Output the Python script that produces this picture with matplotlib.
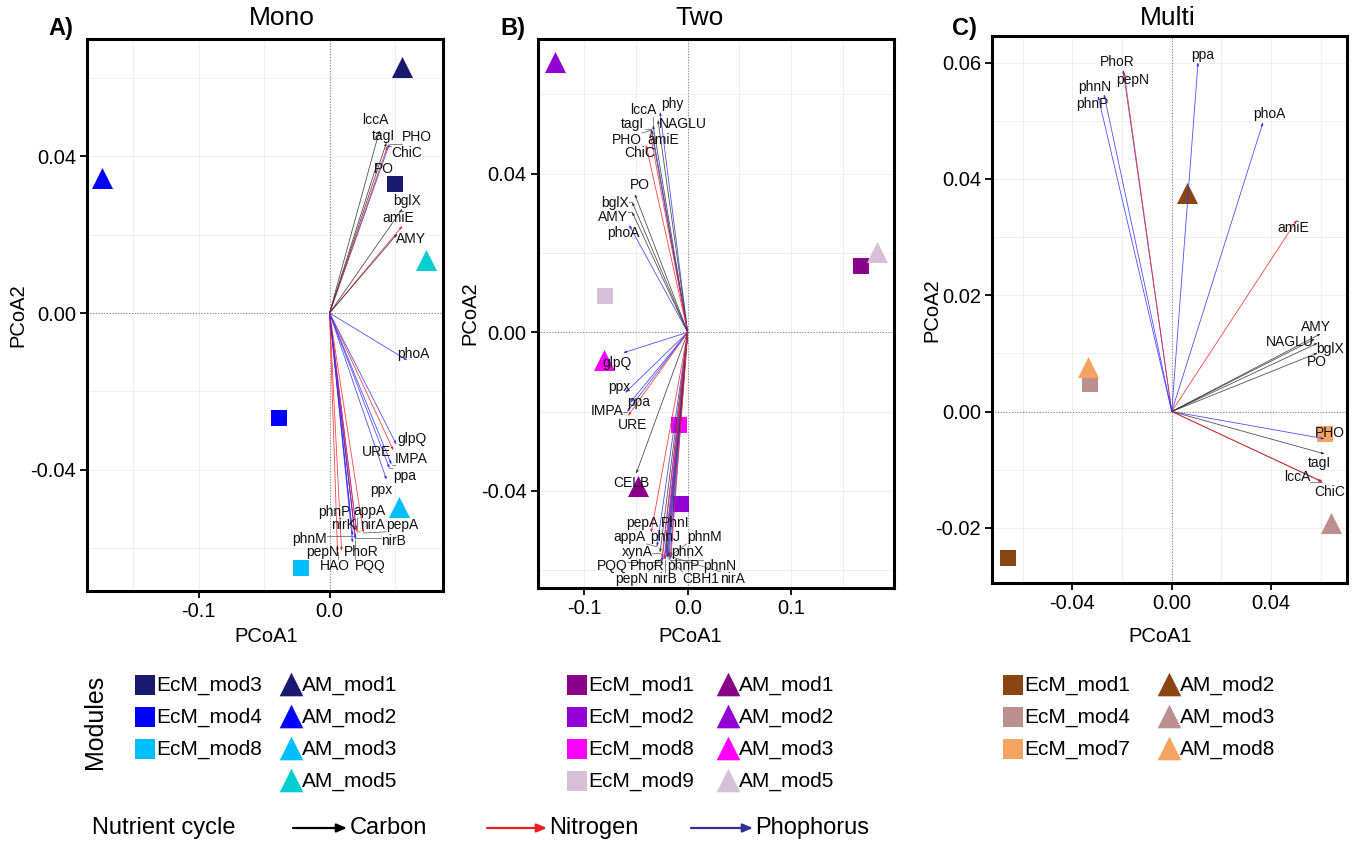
import matplotlib
matplotlib.use("Agg")
import matplotlib.pyplot as plt
import numpy as np

plt.rcParams['font.family'] = ['Liberation Sans', 'DejaVu Sans']
plt.rcParams['axes.unicode_minus'] = False

# ---------------- DATA ----------------
# Panel A (Mono)
mono_modules = ['EcM_mod3', 'EcM_mod4', 'EcM_mod8', 'AM_mod1', 'AM_mod2', 'AM_mod3', 'AM_mod5']
mono_pc1 = [0.0496, -0.0389, -0.0221, 0.0550, -0.1737, 0.0527, 0.0733]
mono_pc2 = [0.0330, -0.0269, -0.0651, 0.0628, 0.0344, -0.0495, 0.0136]
mono_genes = ['lccA', 'tagI', 'PHO', 'ChiC', 'PO', 'bglX', 'amiE', 'AMY', 'phoA', 'glpQ', 'URE',
              'IMPA', 'ppa', 'ppx', 'phnP', 'appA', 'nirK', 'nirA', 'pepA', 'phnM', 'nirB', 'pepN',
              'PhoR', 'HAO', 'PQQ']
mono_cycle = ['C', 'C', 'P', 'N', 'C', 'C', 'N', 'C', 'P', 'P', 'N',
              'P', 'P', 'P', 'P', 'P', 'N', 'N', 'N', 'P', 'N', 'N',
              'P', 'N', 'P']
mono_v1 = [0.0382, 0.0435, 0.0458, 0.0443, 0.0366, 0.0557, 0.0557, 0.0519, 0.0595, 0.0511, 0.0488,
           0.0473, 0.0458, 0.0435, 0.0168, 0.0206, 0.0191, 0.0206, 0.0259, 0.0176, 0.0198, 0.0092,
           0.0176, 0.0061, 0.0198]
mono_v2 = [0.0467, 0.0436, 0.0433, 0.0427, 0.0385, 0.0267, 0.0223, 0.0203, -0.0121, -0.0336, -0.0351,
           -0.0387, -0.0397, -0.0426, -0.0541, -0.0554, -0.0559, -0.0559, -0.0562, -0.0569, -0.0574, -0.0608,
           -0.0587, -0.0610, -0.0579]

# Panel B (Two)
two_modules = ['EcM_mod1', 'EcM_mod2', 'EcM_mod8', 'EcM_mod9', 'AM_mod1', 'AM_mod2', 'AM_mod3', 'AM_mod5']
two_pc1 = [0.1678, -0.0065, -0.0084, -0.0798, -0.0484, -0.1285, -0.0810, 0.1829]
two_pc2 = [0.0167, -0.0433, -0.0233, 0.0091, -0.0387, 0.0683, -0.0071, 0.0203]
two_genes = ['lccA', 'phy', 'NAGLU', 'tagI', 'PHO', 'amiE', 'ChiC', 'PO', 'bglX', 'AMY', 'phoA',
             'glpQ', 'ppx', 'ppa', 'IMPA', 'URE', 'CELB', 'pepA', 'PhnI', 'appA', 'phnJ', 'phnM',
             'xynA', 'phnX', 'PQQ', 'PhoR', 'phnP', 'phnN', 'pepN', 'nirB', 'CBH1', 'nirA']
two_cycle = ['C', 'P', 'C', 'C', 'P', 'N', 'N', 'C', 'C', 'C', 'P',
             'P', 'P', 'P', 'P', 'N', 'C', 'N', 'P', 'P', 'P', 'P',
             'C', 'P', 'P', 'P', 'P', 'P', 'N', 'N', 'C', 'N']
two_v1 = [-0.0336, -0.0268, -0.0288, -0.0355, -0.0346, -0.0365, -0.0404, -0.0513, -0.0539, -0.0539, -0.0568,
          -0.0626, -0.0607, -0.0559, -0.0588, -0.0578, -0.0500, -0.0355, -0.0210, -0.0297, -0.0200, -0.0181,
          -0.0268, -0.0210, -0.0249, -0.0229, -0.0200, -0.0171, -0.0249, -0.0220, -0.0191, -0.0162]
two_v2 = [0.0523, 0.0556, 0.0536, 0.0513, 0.0510, 0.0503, 0.0473, 0.0349, 0.0329, 0.0304, 0.0271,
          -0.0052, -0.0153, -0.0178, -0.0201, -0.0211, -0.0357, -0.0506, -0.0549, -0.0541, -0.0556, -0.0566,
          -0.0556, -0.0561, -0.0579, -0.0574, -0.0569, -0.0574, -0.0569, -0.0574, -0.0569, -0.0566]

# Panel C (Multi)
multi_modules = ['EcM_mod1', 'EcM_mod4', 'EcM_mod7', 'AM_mod2', 'AM_mod3', 'AM_mod8']
multi_pc1 = [-0.0659, -0.0329, 0.0617, 0.0062, 0.0642, -0.0337]
multi_pc2 = [-0.0252, 0.0048, -0.0038, 0.0376, -0.0191, 0.0077]
multi_genes = ['PhoR', 'pepN', 'phnN', 'phnP', 'ppa', 'phoA', 'amiE', 'AMY', 'NAGLU', 'bglX',
               'PO', 'PHO', 'tagI', 'lccA', 'ChiC']
multi_cycle = ['P', 'N', 'P', 'P', 'P', 'P', 'N', 'C', 'C', 'C', 'C', 'P', 'C', 'C', 'N']
multi_v1 = [-0.0196, -0.0192, -0.0273, -0.0297, 0.0106, 0.0368, 0.0505, 0.0601, 0.0577, 0.0589,
            0.0589, 0.0617, 0.0617, 0.0605, 0.0609]
multi_v2 = [0.0588, 0.0584, 0.0546, 0.0543, 0.0601, 0.0498, 0.0330, 0.0134, 0.0125, 0.0118,
            0.0101, -0.0047, -0.0073, -0.0121, -0.0121]

cycle_names = ['Carbon', 'Nitrogen', 'Phophorus']

# ---------------- LAYOUT / STYLE ----------------
# repelled label positions (layout)
mono_lab = [(0.0351, 0.0492), (0.0412, 0.0451), (0.0664, 0.0449), (0.0588, 0.0410), (0.0412, 0.0369),
            (0.0595, 0.0287), (0.0527, 0.0244), (0.0618, 0.0190), (0.0641, -0.0105), (0.0633, -0.0321),
            (0.0359, -0.0354), (0.0626, -0.0374), (0.0572, -0.0415), (0.0397, -0.0451), (0.0038, -0.0508),
            (0.0305, -0.0505), (0.0107, -0.0541), (0.0328, -0.0541), (0.0557, -0.0541), (-0.0153, -0.0577),
            (0.0488, -0.0582), (-0.0053, -0.0610), (0.0244, -0.0610), (0.0038, -0.0646), (0.0313, -0.0646)]
two_lab = [(-0.0433, 0.0561), (-0.0152, 0.0576), (-0.0045, 0.0526), (-0.0530, 0.0526), (-0.0588, 0.0485),
           (-0.0239, 0.0485), (-0.0462, 0.0452), (-0.0462, 0.0372), (-0.0704, 0.0326), (-0.0723, 0.0291),
           (-0.0626, 0.0250), (-0.0684, -0.0077), (-0.0665, -0.0138), (-0.0471, -0.0176), (-0.0781, -0.0198),
           (-0.0530, -0.0233), (-0.0549, -0.0380), (-0.0442, -0.0481), (-0.0123, -0.0481), (-0.0559, -0.0516),
           (-0.0220, -0.0516), (0.0158, -0.0516), (-0.0491, -0.0554), (-0.0007, -0.0554), (-0.0733, -0.0589),
           (-0.0394, -0.0589), (-0.0046, -0.0589), (0.0313, -0.0589), (-0.0539, -0.0622), (-0.0229, -0.0622),
           (0.0129, -0.0622), (0.0438, -0.0622)]
multi_lab = [(-0.0220, 0.0601), (-0.0156, 0.0570), (-0.0309, 0.0558), (-0.0321, 0.0529), (0.0126, 0.0613),
             (0.0392, 0.0512), (0.0489, 0.0316), (0.0581, 0.0146), (0.0476, 0.0120), (0.0638, 0.0108),
             (0.0585, 0.0085), (0.0638, -0.0037), (0.0597, -0.0088), (0.0505, -0.0112), (0.0638, -0.0138)]

mono_colors = {'EcM_mod3': '#191970', 'EcM_mod4': '#0000FF', 'EcM_mod8': '#00BFFF',
               'AM_mod1': '#191970', 'AM_mod2': '#0000FF', 'AM_mod3': '#00BFFF', 'AM_mod5': '#00CED1'}
two_colors = {'EcM_mod1': '#8B008B', 'EcM_mod2': '#9400D3', 'EcM_mod8': '#FF00FF', 'EcM_mod9': '#D8BFD8',
              'AM_mod1': '#8B008B', 'AM_mod2': '#9400D3', 'AM_mod3': '#FF00FF', 'AM_mod5': '#D8BFD8'}
multi_colors = {'EcM_mod1': '#8B4513', 'EcM_mod4': '#BC8F8F', 'EcM_mod7': '#F4A460',
                'AM_mod2': '#8B4513', 'AM_mod3': '#BC8F8F', 'AM_mod8': '#F4A460'}
cyc_col = {'C': '#333333', 'N': '#FF2020', 'P': '#3030FF'}

W, H = 1353, 844
fig = plt.figure(figsize=(W / 100, H / 100), dpi=100)


def px_axes(l, t, r, b):
    return fig.add_axes([l / W, 1 - b / H, (r - l) / W, (b - t) / H])


panels = [
    dict(box=(87.3, 39, 443, 591), xlim=(-0.1849, 0.0866), ylim=(-0.0710, 0.0700),
         xt=[-0.1, 0.0], xfmt='{:.1f}', xmin=[-0.15, -0.05, 0.05],
         yt=[-0.04, 0.0, 0.04], yfmt='{:.2f}', ymin=[-0.06, -0.02, 0.02, 0.06],
         mods=mono_modules, p1=mono_pc1, p2=mono_pc2, cols=mono_colors,
         genes=mono_genes, cyc=mono_cycle, v1=mono_v1, v2=mono_v2, lab=mono_lab),
    dict(box=(537.7, 39.3, 894.3, 588), xlim=(-0.1452, 0.2000), ylim=(-0.0645, 0.0739),
         xt=[-0.1, 0.0, 0.1], xfmt='{:.1f}', xmin=[-0.15, -0.05, 0.05, 0.15],
         yt=[-0.04, 0.0, 0.04], yfmt='{:.2f}', ymin=[-0.06, -0.02, 0.02, 0.06],
         mods=two_modules, p1=two_pc1, p2=two_pc2, cols=two_colors,
         genes=two_genes, cyc=two_cycle, v1=two_v1, v2=two_v2, lab=two_lab),
    dict(box=(992, 36, 1347, 583), xlim=(-0.0724, 0.0706), ylim=(-0.0295, 0.0646),
         xt=[-0.04, 0.0, 0.04], xfmt='{:.2f}', xmin=[-0.06, -0.02, 0.02, 0.06],
         yt=[-0.02, 0.0, 0.02, 0.04, 0.06], yfmt='{:.2f}', ymin=[-0.01, 0.01, 0.03, 0.05],
         mods=multi_modules, p1=multi_pc1, p2=multi_pc2, cols=multi_colors,
         genes=multi_genes, cyc=multi_cycle, v1=multi_v1, v2=multi_v2, lab=multi_lab),
]

axes = []
all_texts = []
for P in panels:
    ax = px_axes(*P['box'])
    axes.append(ax)
    ax.set_xlim(*P['xlim'])
    ax.set_ylim(*P['ylim'])
    for g in P['xt'] + P['xmin']:
        ax.axvline(g, color='#ECECEC', lw=0.6, zorder=0)
    for g in P['yt'] + P['ymin']:
        ax.axhline(g, color='#ECECEC', lw=0.6, zorder=0)
    ax.axvline(0, color='#888888', lw=0.8, ls=(0, (1, 1.5)), zorder=1)
    ax.axhline(0, color='#888888', lw=0.8, ls=(0, (1, 1.5)), zorder=1)
    ax.set_xticks(P['xt'])
    ax.set_xticklabels([P['xfmt'].format(v) if abs(v) > 1e-12 else P['xfmt'].format(0.0) for v in P['xt']])
    ax.set_yticks(P['yt'])
    ax.set_yticklabels([P['yfmt'].format(v) if abs(v) > 1e-12 else P['yfmt'].format(0.0) for v in P['yt']])
    ax.tick_params(direction='out', length=5, width=1.3, labelsize=14.5, pad=3, colors='black')
    for s in ax.spines.values():
        s.set_linewidth(2.2)
        s.set_color('black')
    # points
    for m, x, y in zip(P['mods'], P['p1'], P['p2']):
        if m.startswith('EcM'):
            ax.scatter([x], [y], marker='s', s=140, color=P['cols'][m], zorder=2, linewidths=0)
        else:
            ax.scatter([x], [y], marker='^', s=230, color=P['cols'][m], zorder=2, linewidths=0)
    # arrows
    for c, x, y in zip(P['cyc'], P['v1'], P['v2']):
        ax.annotate('', xy=(x, y), xytext=(0, 0),
                    arrowprops=dict(arrowstyle='-|>,head_length=0.18,head_width=0.06',
                                    color=cyc_col[c], lw=0.6, alpha=0.85,
                                    shrinkA=0, shrinkB=0), zorder=3)
    texts = []
    for gname, (lx, ly) in zip(P['genes'], P['lab']):
        t = ax.text(lx, ly, gname, fontsize=10, ha='center', va='center', color='#111111', zorder=4)
        texts.append(t)
    all_texts.append(texts)

# label connector segments (ggrepel-like)
fig.canvas.draw()
rend = fig.canvas.get_renderer()
for ax, P, texts in zip(axes, panels, all_texts):
    inv = ax.transData.inverted()
    for t, x, y in zip(texts, P['v1'], P['v2']):
        bb = t.get_window_extent(rend)
        px, py = ax.transData.transform((x, y))
        cx = min(max(px, bb.x0), bb.x1)
        cy = min(max(py, bb.y0), bb.y1)
        if np.hypot(px - cx, py - cy) > 3:
            qx, qy = inv.transform((cx, cy))
            ax.plot([x, qx], [y, qy], color='#555555', lw=0.5, zorder=3.5)

# axis titles, panel titles, letters
for xc, yc in ((18, 315), (470, 313), (932, 310)):
    fig.text(xc / W, 1 - yc / H, 'PCoA2', rotation=90, fontsize=14.5, ha='center', va='center')
for xc in (266, 690, 1160):
    fig.text(xc / W, 1 - 637 / H, 'PCoA1', fontsize=14.5, ha='center', va='center')
for xc, ttl in ((282, 'Mono'), (700, 'Two'), (1168, 'Multi')):
    fig.text(xc / W, 1 - 18 / H, ttl, fontsize=19, ha='center', va='center')
for xl, let in ((48, 'A)'), (500, 'B)'), (952, 'C)')):
    fig.text(xl / W, 1 - 29 / H, let, fontsize=17, fontweight='bold', ha='left', va='center')

# ---------------- LEGENDS ----------------
lax = fig.add_axes([0, 0, 1, 1])
lax.set_xlim(0, W)
lax.set_ylim(H, 0)
lax.axis('off')
lax.text(95, 722, 'Modules', rotation=90, fontsize=18, ha='center', va='center')

rows = [685, 717, 749, 781]
leg_sets = [
    (mono_modules, mono_colors, 145, 291),
    (two_modules, two_colors, 577, 728),
    (multi_modules, multi_colors, 1013, 1169),
]
for mods, cols, sx, tx in leg_sets:
    ecm = [m for m in mods if m.startswith('EcM')]
    am = [m for m in mods if m.startswith('AM')]
    for i, m in enumerate(ecm):
        lax.scatter([sx], [rows[i]], marker='s', s=210, color=cols[m], linewidths=0)
        lax.text(sx + 11, rows[i], m, fontsize=15, ha='left', va='center')
    for i, m in enumerate(am):
        lax.scatter([tx], [rows[i] - 1], marker='^', s=290, color=cols[m], linewidths=0)
        lax.text(tx + 11, rows[i], m, fontsize=15, ha='left', va='center')

lax.text(92, 828, 'Nutrient cycle', fontsize=17, ha='left', va='center')
for (x0, x1, tx), col, name in zip(((293, 347, 350), (487, 547, 549), (691, 753, 755)),
                                    ('black', '#EE1C25', '#2E3192'), cycle_names):
    lax.annotate('', xy=(x1, 828), xytext=(x0, 828),
                 arrowprops=dict(arrowstyle='-|>,head_length=0.6,head_width=0.25', color=col, lw=1.6,
                                 shrinkA=0, shrinkB=0))
    lax.text(tx, 828, name, fontsize=17, ha='left', va='center')

fig.savefig('out.png', dpi=100)
